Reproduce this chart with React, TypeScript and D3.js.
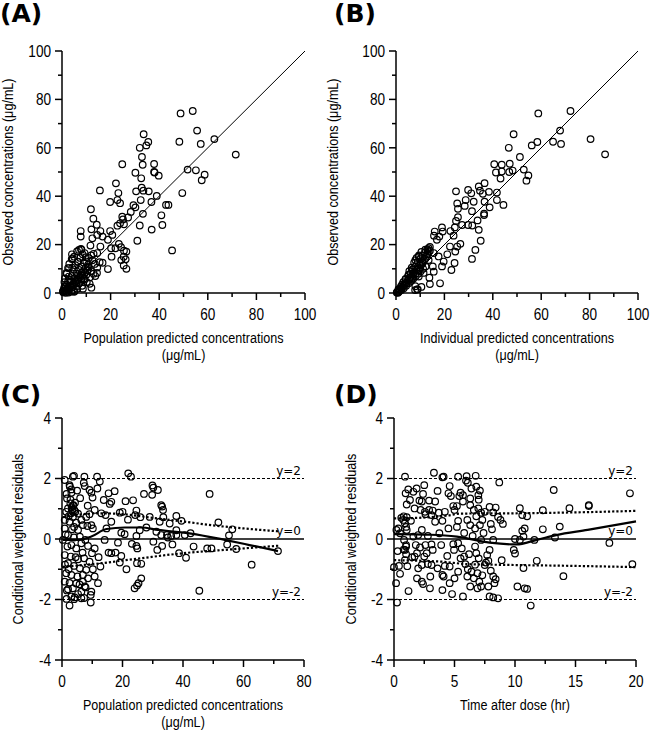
import React from 'react';
import * as d3 from 'd3';

// ---------- tick labels ----------
const concTicks = [0, 20, 40, 60, 80, 100];
const concMinor = [10, 30, 50, 70, 90];
const predTicksC = [0, 20, 40, 60, 80];
const predMinorC = [10, 30, 50, 70];
const timeTicks = [0, 5, 10, 15, 20];
const timeMinor = [2.5, 7.5, 12.5, 17.5];
const resTicks = [-4, -2, 0, 2, 4];
const resMinor = [-3, -1, 1, 3];

// ---------- (A) PRED vs DV ----------
const panelAPoints: [number, number][] = [
  [48.8, 74.2], [53.8, 75.2], [55.6, 67.1], [57.1, 61.6], [48.3, 62.5], [62.7, 63.6], [71.5, 57.2],
  [33.6, 65.6], [35.5, 62.4], [34.7, 61.0], [32.0, 60.0], [32.9, 56.2], [24.8, 53.2], [33.2, 53.0],
  [37.9, 53.3], [30.2, 49.7], [37.9, 50.0], [38.1, 49.8], [39.8, 48.5], [32.6, 47.4], [51.7, 51.0],
  [55.1, 50.7], [58.7, 48.9], [57.5, 46.6], [22.2, 45.3], [15.6, 42.4], [30.5, 42.0], [32.8, 43.5],
  [33.5, 42.3], [35.7, 42.0], [23.2, 41.3], [39.0, 40.1], [49.5, 41.3], [22.8, 38.4], [19.8, 37.6],
  [23.9, 37.1], [32.4, 38.4], [36.8, 37.6], [30.2, 35.4], [29.4, 36.3], [28.3, 33.5], [42.8, 36.4],
  [43.8, 36.4], [11.9, 34.6], [12.9, 30.7], [24.8, 31.5], [25.1, 30.4], [33.3, 32.7], [40.9, 32.1],
  [23.9, 28.8], [22.8, 27.8], [25.5, 28.4], [27.2, 31.2], [14.3, 28.2], [12.1, 26.3], [32.0, 27.9],
  [36.9, 26.2], [41.3, 28.1], [7.7, 25.6], [7.7, 23.3], [12.5, 22.6], [15.8, 25.6], [14.5, 24.0],
  [19.8, 25.6], [20.7, 24.0], [16.7, 23.3], [11.7, 19.6], [15.8, 19.2], [18.9, 22.0], [23.4, 20.3],
  [20.2, 18.5], [24.3, 18.9], [25.5, 17.5], [26.5, 17.1], [25.4, 15.0], [26.2, 13.9], [24.4, 13.6],
  [25.4, 11.4], [26.5, 10.0], [31.0, 21.6], [45.3, 17.6], [20.4, 15.0], [22.0, 18.5], [18.9, 9.9],
  [4.1, 16.0], [4.4, 14.3], [8.0, 17.9], [9.3, 16.5], [13.0, 16.2], [14.5, 16.5], [15.5, 12.7],
  [16.7, 12.5], [13.7, 7.0], [14.4, 8.3], [10.7, 11.0], [6.6, 12.8], [2.9, 10.3], [1.8, 8.3],
  [4.9, 9.7], [8.0, 8.3], [5.9, 6.6], [9.3, 5.6], [11.4, 3.8], [2.5, 4.8], [1.1, 2.8], [4.1, 3.2],
  [6.9, 3.9], [0.4, 0.8], [2.5, 1.5], [5.2, 0.8], [8.6, 1.8], [12.1, 2.2],
  [0.5, 0.3], [1.0, 0.8], [1.5, 1.2], [2.0, 0.5], [2.5, 2.0], [3.0, 1.5], [3.5, 3.0], [4.0, 2.2],
  [4.5, 1.0], [5.0, 3.5], [5.5, 4.5], [6.0, 2.8], [6.5, 5.5], [7.0, 4.0], [7.5, 6.5], [8.0, 5.0],
  [8.5, 7.2], [9.0, 6.0], [9.5, 8.5], [10.0, 7.5], [10.5, 9.5], [11.0, 10.5], [3.0, 5.5], [4.0, 7.0],
  [5.0, 6.0], [6.0, 8.0], [7.0, 9.5], [8.0, 11.0], [9.0, 12.5], [10.0, 13.0], [11.0, 14.5],
  [12.0, 15.5], [2.0, 3.5], [3.5, 4.8], [1.5, 2.5], [2.8, 6.8], [4.2, 10.5], [5.5, 11.5], [6.5, 13.0],
  [7.5, 14.5], [3.0, 12.0], [4.0, 14.0], [5.0, 15.0], [6.2, 17.2], [7.0, 17.8], [7.8, 18.2],
  [8.5, 16.0], [9.8, 14.8], [10.8, 11.8], [12.5, 13.5], [13.5, 12.0], [14.5, 10.5], [1.0, 4.5],
  [2.0, 8.0], [1.2, 6.0], [2.5, 10.3], [0.8, 1.8], [1.8, 0.8], [2.2, 1.6], [3.2, 2.5], [4.8, 4.0],
  [5.8, 5.0], [6.8, 6.2], [7.8, 7.5], [8.8, 9.0], [9.8, 10.5], [12.0, 9.0], [13.0, 8.0], [11.5, 6.5],
  [10.2, 4.5], [8.3, 3.0], [6.3, 1.8], [5.0, 0.5], [3.8, 0.6], [2.7, 0.2], [1.5, 0.1], [0.6, 0.9],
];

// ---------- (B) IPRED vs DV ----------
const panelBPoints: [number, number][] = [
  [58.8, 74.2], [72.1, 75.2], [67.8, 67.1], [68.2, 61.6], [64.9, 62.5], [80.4, 63.6], [86.4, 57.3],
  [48.6, 65.6],
  [56.1, 61.0], [58.4, 62.4], [46.6, 60.0], [51.2, 56.2], [40.6, 53.2], [43.7, 53.0], [47.0, 53.4],
  [41.3, 49.8], [43.7, 50.2], [46.8, 50.0], [48.2, 50.6], [43.2, 47.3], [52.8, 51.0], [54.7, 48.6],
  [53.9, 46.4], [36.6, 45.4], [24.8, 42.0], [29.8, 42.6], [31.1, 41.2], [34.2, 44.0], [34.7, 42.3],
  [35.9, 41.0], [38.4, 41.8], [41.7, 41.5], [28.8, 38.4], [32.1, 37.7], [36.6, 37.7], [41.7, 38.4],
  [44.4, 36.4], [25.3, 37.0], [25.6, 34.8], [28.4, 36.0], [31.4, 33.8], [36.4, 32.2], [36.4, 32.8],
  [38.7, 35.4], [25.6, 31.3], [24.8, 29.8], [27.3, 28.1], [29.8, 28.1], [31.5, 27.9], [33.7, 30.0],
  [34.2, 26.1], [24.3, 27.1], [16.0, 25.4], [15.7, 23.7], [19.0, 27.1], [19.3, 25.4], [17.9, 23.3],
  [16.9, 22.0], [22.5, 25.6], [23.8, 23.7], [26.6, 20.3], [25.3, 19.2], [24.5, 17.1], [22.3, 19.2],
  [21.2, 16.0], [24.2, 12.4], [22.9, 9.5], [31.4, 14.1], [32.8, 17.8], [35.0, 21.6], [18.2, 4.0],
  [19.7, 13.0], [19.0, 11.0], [17.6, 15.1], [15.6, 16.5], [13.5, 18.5], [12.1, 17.9], [9.4, 15.1],
  [8.0, 13.6], [11.0, 12.4], [13.5, 13.6], [15.2, 11.0], [15.6, 8.8], [11.4, 8.3], [13.8, 6.3],
  [14.0, 3.7], [8.7, 1.5], [6.6, 9.7], [5.2, 7.6], [3.9, 5.6], [2.5, 3.4], [1.1, 1.4], [6.6, 5.6],
  [9.4, 6.8], [10.1, 10.4], [7.9, 1.2], [8.0, 2.8],
  [0.5, 0.4], [1.0, 0.9], [1.5, 1.3], [2.0, 1.8], [2.5, 2.2], [3.0, 3.0], [3.5, 3.2], [4.0, 4.2],
  [4.5, 4.0], [5.0, 5.3], [5.5, 5.8], [6.0, 6.5], [6.5, 6.2], [7.0, 7.8], [7.5, 8.5], [8.0, 8.0],
  [8.5, 9.5], [9.0, 10.0], [9.5, 9.2], [10.0, 11.5], [10.5, 12.0], [11.0, 12.5], [11.5, 13.5],
  [12.0, 14.0], [12.5, 15.0], [13.0, 16.0], [13.5, 17.0], [14.0, 17.5], [1.2, 0.5], [2.2, 1.2],
  [3.2, 2.0], [4.2, 3.0], [5.2, 4.0], [6.2, 5.0], [7.2, 6.0], [8.2, 7.0], [9.2, 8.0], [10.2, 9.0],
  [11.2, 10.0], [12.2, 11.0], [3.0, 4.5], [4.0, 5.8], [5.0, 7.0], [6.0, 8.0], [7.0, 9.5], [8.0, 11.0],
  [9.0, 12.8], [10.0, 14.0], [11.0, 15.5], [12.0, 16.8], [13.0, 18.0], [14.0, 19.0], [7.5, 12.5],
  [8.5, 14.5], [9.5, 15.5], [10.5, 17.0], [6.5, 10.5], [5.5, 9.0], [1.0, 1.5], [0.3, 0.2], [0.8, 0.1],
  [2.0, 2.6], [9.0, 1.5], [10.5, 2.5],
];

// ---------- (C) PRED vs CWRES ----------
const panelCPoints: [number, number][] = [
  [3.6, 2.06], [3.97, 2.09], [7.4, 2.06], [11.6, 2.06], [12.5, 1.9], [21.9, 2.17], [22.8, 2.06],
  [7.2, 1.86], [7.5, 1.75], [9.1, 1.62], [9.7, 1.53], [11.7, 1.67], [10.1, 1.37], [2.6, 1.73],
  [3.1, 1.53], [1.5, 1.49], [15.4, 1.51], [17.4, 1.58], [13.8, 1.29], [16.3, 1.23], [15.8, 1.16],
  [21.0, 1.25], [23.5, 1.28], [27.1, 1.49], [29.9, 1.77], [30.2, 1.70], [31.7, 1.62], [29.8, 1.46],
  [32.8, 1.12], [33.1, 1.07], [33.4, 0.96], [48.8, 1.49], [10.8, 0.96], [13.0, 0.85], [14.4, 0.79],
  [19.1, 0.87], [20.0, 0.90], [24.6, 0.94], [24.2, 0.79], [25.9, 0.72], [21.8, 0.64], [29.0, 0.73],
  [32.3, 0.57], [33.5, 0.72], [35.6, 0.51], [37.8, 0.76], [39.5, 0.60], [51.7, 0.55], [56.3, 0.32],
  [55.2, 0.12], [16.3, 0.57], [14.7, 0.35], [19.6, 0.21], [20.7, 0.16], [24.6, 0.10], [25.7, 0.29],
  [27.9, 0.38], [31.2, 0.24], [32.8, 0.13], [35.0, 0.05], [34.7, 0.13], [36.1, 0.10], [37.8, 0.13],
  [37.8, 0.29], [40.6, 0.13], [42.5, 0.19], [14.1, -0.03], [18.5, -0.12], [23.1, -0.16],
  [24.6, -0.23], [24.9, -0.31], [30.2, -0.09], [31.5, -0.36], [33.1, -0.23], [36.5, -0.18],
  [38.7, -0.47], [41.0, -0.62], [43.5, -0.25], [48.0, -0.31], [49.4, -0.31], [54.6, -0.18],
  [57.6, -0.33], [62.7, -0.85], [71.4, -0.40], [15.4, -0.45], [16.3, -0.47], [17.7, -0.45],
  [19.6, -0.56], [19.1, -0.78], [24.8, -0.80], [26.2, -0.82], [21.3, -1.0], [26.2, -1.30],
  [25.3, -1.46], [24.8, -1.54], [24.0, -1.63], [45.4, -1.71], [12.1, -0.60], [12.7, -0.91],
  [10.2, -1.0], [10.8, -1.24], [11.9, -1.46], [9.7, -1.74], [9.5, -1.85], [7.5, -1.57], [6.4, -1.74],
  [5.3, -1.82], [3.6, -1.63], [2.0, -1.66], [3.1, -1.90], [4.2, -1.93], [6.4, -1.96], [7.3, -1.95],
  [9.5, -2.1], [2.5, -2.2], [1.5, -1.98], [4.0, -1.99],
  [0.9, 1.95], [2.5, 1.78], [3.1, 1.64], [1.65, 1.34], [2.75, 1.18], [3.6, 1.10], [1.98, 1.01],
  [3.3, 0.96], [1.4, 0.90], [4.4, 0.90], [2.2, 0.75], [3.6, 0.73], [5.3, 0.84], [0.9, 0.63],
  [2.5, 0.57], [4.7, 0.54], [6.4, 0.63], [8.0, 0.73], [9.1, 0.82], [6.9, 0.46], [8.4, 0.43],
  [9.7, 0.46], [10.2, 0.35], [0.9, 0.35], [3.3, 0.32], [5.3, 0.30], [2.0, 0.13], [3.96, 0.05],
  [5.9, 0.08], [7.7, -0.03], [0.3, -0.03], [1.8, -0.25], [3.1, -0.20], [4.7, -0.31], [6.4, -0.14],
  [8.6, -0.23], [10.8, -0.31], [9.9, -0.47], [0.9, -0.53], [2.9, -0.58], [5.3, -0.67], [7.3, -0.64],
  [9.1, -0.75], [2.0, -0.80], [3.96, -0.89], [5.9, -0.97], [8.0, -1.02], [1.4, -1.13], [3.1, -1.19],
  [5.1, -1.24], [6.9, -1.19], [8.6, -1.30], [0.9, -1.41], [2.5, -1.45], [4.7, -1.47], [6.9, -1.41],
  [3.2, 1.05], [3.5, 0.98], [3.8, 1.12], [4.1, 0.95], [3.0, 0.85], [4.3, 1.2], [2.8, 1.3],
  [4.0, 0.4], [1.2, 0.15], [6.0, 1.35], [5.0, 1.6], [8.5, 1.1], [1.0, -0.85], [2.2, -1.0],
  [6.8, -0.45], [4.5, -0.6], [7.8, -1.6], [1.6, -1.7], [5.8, -1.5],
];

// ---------- (D) TIME vs CWRES ----------
const panelDPoints: [number, number][] = [
  [0.91, 2.06], [3.3, 2.19], [4.0, 2.04], [4.1, 2.06], [5.3, 2.06], [6.0, 2.08], [6.75, 2.09],
  [5.95, 1.93], [6.1, 1.86], [8.7, 1.87], [13.2, 1.62], [19.5, 1.51], [16.1, 1.12], [16.1, 1.09],
  [14.5, 1.02], [12.3, 0.95], [10.4, 1.02], [10.6, 0.79], [11.0, 0.75], [13.7, 0.41], [12.3, 0.32],
  [13.3, 0.05], [17.8, -0.13], [19.7, -0.83], [14.0, -1.23], [11.8, -0.72], [10.7, -0.96],
  [10.8, -1.63], [11.0, -1.65], [10.2, -1.57], [10.0, -0.48], [9.9, -0.36], [10.0, 0.0],
  [10.4, -0.03], [10.7, 0.08], [10.6, 0.27], [10.8, 0.35], [11.6, -0.03], [0.17, -1.46],
  [0.0, -0.93], [0.41, -0.89], [1.2, -1.72], [0.25, -2.1], [11.3, -2.2],
  [0.96, 1.51], [1.18, 1.64], [1.87, 1.67], [2.5, 1.78], [1.6, 1.56], [2.4, 1.49], [1.32, 1.29],
  [2.1, 1.27], [2.3, 1.24], [1.05, 1.14], [1.7, 1.01], [2.2, 0.96], [2.56, 0.90], [2.9, 0.96],
  [3.2, 0.94], [3.4, 1.24], [3.6, 1.59], [3.7, 0.87], [4.5, 1.51], [4.6, 1.75], [4.7, 1.42],
  [4.9, 1.09], [5.2, 1.09], [5.0, 0.96], [4.2, 0.90], [4.0, 0.60], [5.3, 0.60], [5.5, 1.53],
  [5.4, 1.42], [5.7, 1.45], [5.7, 1.24], [6.3, 1.34], [6.4, 1.67], [6.8, 1.73], [7.1, 1.60],
  [6.97, 1.45], [6.3, 1.12], [6.6, 0.96], [6.97, 1.01], [7.2, 0.87], [7.5, 0.90], [7.9, 1.06],
  [8.4, 1.04], [8.2, 0.88], [8.8, 0.63], [8.6, 0.73], [8.1, 0.32], [7.3, 0.63], [7.1, 0.46],
  [6.7, 0.35], [6.06, 0.63], [6.3, 0.46], [2.9, 1.27], [2.6, 0.82], [3.1, 0.79], [3.4, 0.57],
  [3.75, 0.19], [2.8, 0.10], [2.3, 0.30], [2.0, 0.13], [1.6, 0.08], [1.05, 0.30], [0.9, 0.52],
  [1.05, 0.72], [0.77, 0.63], [0.36, 0.35], [0.5, 0.19], [0.83, -0.03], [1.0, -0.25], [0.9, -0.36],
  [1.8, -0.20], [2.15, -0.28], [2.6, -0.20], [3.1, -0.18], [3.2, -0.36], [2.7, -0.47], [1.9, -0.47],
  [1.7, -0.58], [2.5, -0.58], [2.3, -0.86], [2.8, -0.83], [3.1, -0.86], [3.6, -0.97], [4.2, -0.89],
  [4.4, -0.56], [4.96, -0.36], [4.9, -0.17], [5.3, -0.14], [5.6, -0.31], [5.5, -0.64], [5.8, -0.58],
  [5.9, -0.83], [6.1, -1.0], [6.4, -1.08], [6.06, -1.24], [6.6, -1.30], [6.9, -1.13], [7.05, -1.41],
  [7.2, -1.57], [6.9, -1.63], [6.3, -1.57], [5.3, -1.08], [5.0, -1.30], [4.6, -1.46], [4.0, -1.19],
  [4.1, -1.24], [4.6, -0.91], [6.7, -0.25], [6.8, -0.47], [7.0, -0.64], [7.2, -0.03], [7.5, -0.86],
  [7.6, -0.78], [7.8, -0.72], [7.7, -0.53], [7.9, -0.36], [8.2, -0.03], [8.0, -1.05], [8.2, -1.24],
  [8.4, -1.33], [8.3, -1.46], [7.8, -1.57], [7.9, -1.9], [8.2, -1.93], [8.6, -1.96], [5.7, -1.9],
  [4.8, -1.82], [4.0, -1.69], [2.97, -1.63], [2.4, -1.49], [1.9, -1.30], [3.0, -1.24], [2.0, -0.97],
  [2.3, -1.41], [0.2, 0.3], [0.3, -0.4], [0.6, 0.7], [0.8, 0.75], [1.0, 0.4], [1.0, -0.2],
  [0.8, -0.35], [1.0, -0.5], [0.9, -0.7], [1.1, -0.9], [0.5, -1.15], [6.5, 0.1], [7.4, 0.2],
  [6.8, 0.75], [5.8, 0.2], [4.5, 0.35], [3.9, -0.2], [6.2, -0.5], [7.3, -1.2], [6.7, -0.85],
  [5.2, 0.4], [1.4, 0.6], [1.5, -0.6], [9.0, 0.5], [8.9, -0.7], [7.0, 1.3], [8.0, 0.5],
];

// ---------- smooth / percentile lines ----------
const cSolid: [number, number][] = [
  [0.3, -0.03], [5.3, -0.03], [9.7, 0.08], [14.7, 0.33], [20.7, 0.38], [26.2, 0.38], [31.7, 0.3],
  [42.7, 0.18], [53.8, -0.03], [62, -0.2], [71.4, -0.4],
];
const cUpper: [number, number][] = [
  [0.3, 0.72], [5, 0.8], [13, 0.85], [20, 0.82], [30, 0.7], [40, 0.58], [50, 0.45], [60, 0.35], [72, 0.25],
];
const cLower: [number, number][] = [
  [0.3, -0.92], [13, -0.8], [25, -0.65], [40, -0.47], [55, -0.35], [72, -0.22],
];
const dSolid: [number, number][] = [
  [0, 0.16], [3, 0.14], [5.2, 0.08], [7.9, -0.12], [10.1, -0.18], [11.8, -0.03], [13.4, 0.13],
  [16, 0.3], [20, 0.58],
];
const dUpper: [number, number][] = [
  [0, 0.68], [3, 0.72], [4.5, 0.78], [5.5, 0.84], [10, 0.85], [15, 0.88], [20, 0.93],
];
const dLower: [number, number][] = [
  [0, -0.7], [4, -0.75], [6, -0.83], [10, -0.86], [15, -0.89], [20, -0.93],
];

const refLevels = [2, 0, -2];

const SANS = "'Liberation Sans', Arial, sans-serif";
const BOLDF = "'DejaVu Sans', Verdana, sans-serif";

type NTextProps = { x: number; y: number; size: number; anchor?: string; rotate?: number; sx?: number; children: React.ReactNode };
function NText({ x, y, size, anchor = 'start', rotate = 0, sx = 0.86, children }: NTextProps) {
  return (
    <text transform={`translate(${x},${y}) rotate(${rotate}) scale(${sx},1)`} x={0} y={0}
      textAnchor={anchor} fontFamily={SANS} fontSize={size} fill="#000">{children}</text>
  );
}

type PanelProps = {
  x0: number; x1: number; yTop: number; yBot: number;
  xDomain: [number, number]; yDomain: [number, number];
  xTicks: number[]; xMinor: number[]; yTicks: number[]; yMinor: number[];
  points: [number, number][];
  label: string; labelX: number; labelY: number;
  xTitle: string[]; yTitle: string; yTitleX: number;
  identity?: boolean;
  residual?: boolean;
  solid?: [number, number][]; upper?: [number, number][]; lower?: [number, number][];
};

function Panel(p: PanelProps) {
  const xs = d3.scaleLinear().domain(p.xDomain).range([p.x0, p.x1]);
  const ys = d3.scaleLinear().domain(p.yDomain).range([p.yBot, p.yTop]);
  const line = d3.line<[number, number]>().x(d => xs(d[0])).y(d => ys(d[1])).curve(d3.curveMonotoneX);
  const yc = (p.yTop + p.yBot) / 2;
  const xc = (p.x0 + p.x1) / 2;
  return (
    <g>
      <text x={p.labelX} y={p.labelY} fontFamily={BOLDF} fontWeight="bold" fontSize={25}>{p.label}</text>
      {p.identity && (
        <line x1={xs(0)} y1={ys(0)} x2={xs(100)} y2={ys(100)} stroke="#000" strokeWidth={1} />
      )}
      {p.residual && refLevels.map(v => (
        <line key={'r' + v} x1={p.x0} x2={p.x1} y1={ys(v)} y2={ys(v)} stroke="#000"
          strokeWidth={v === 0 ? 1.3 : 1} strokeDasharray={v === 0 ? undefined : '3,2'} />
      ))}
      {p.residual && refLevels.map(v => (
        <text key={'t' + v} x={p.x1 - 3} y={ys(v) - 4} textAnchor="end" fontFamily="'DejaVu Sans', sans-serif" fontSize={12}>{`y=${v}`}</text>
      ))}
      {p.points.map((d, i) => (
        <circle key={i} cx={xs(d[0])} cy={ys(d[1])} r={3.3} fill="none" stroke="#000" strokeWidth={1.2} />
      ))}
      {p.upper && <path d={line(p.upper) || ''} fill="none" stroke="#000" strokeWidth={2.2} strokeDasharray="2.2,2" />}
      {p.lower && <path d={line(p.lower) || ''} fill="none" stroke="#000" strokeWidth={2.2} strokeDasharray="2.2,2" />}
      {p.solid && <path d={line(p.solid) || ''} fill="none" stroke="#000" strokeWidth={2.2} />}
      <line x1={p.x0} x2={p.x0} y1={p.yTop} y2={p.yBot} stroke="#000" strokeWidth={1.5} />
      <line x1={p.x0} x2={p.x1} y1={p.yBot} y2={p.yBot} stroke="#000" strokeWidth={1.5} />
      {p.yTicks.map(v => (
        <g key={'yt' + v}>
          <line x1={p.x0 - 7} x2={p.x0} y1={ys(v)} y2={ys(v)} stroke="#000" strokeWidth={1.5} />
          <NText x={p.x0 - 11} y={ys(v) + 5.8} size={16} anchor="end" sx={0.85}>{String(v)}</NText>
        </g>
      ))}
      {p.yMinor.map(v => (
        <line key={'ym' + v} x1={p.x0 - 4} x2={p.x0} y1={ys(v)} y2={ys(v)} stroke="#000" strokeWidth={1.5} />
      ))}
      {p.xTicks.map(v => (
        <g key={'xt' + v}>
          <line x1={xs(v)} x2={xs(v)} y1={p.yBot} y2={p.yBot + 7} stroke="#000" strokeWidth={1.5} />
          <NText x={xs(v)} y={p.yBot + 27} size={16} anchor="middle" sx={0.85}>{String(v)}</NText>
        </g>
      ))}
      {p.xMinor.map(v => (
        <line key={'xm' + v} x1={xs(v)} x2={xs(v)} y1={p.yBot} y2={p.yBot + 4} stroke="#000" strokeWidth={1.5} />
      ))}
      {p.xTitle.map((t, i) => (
        <NText key={'xl' + i} x={xc} y={p.yBot + 50 + i * 17} size={15} anchor="middle" sx={0.84}>{t}</NText>
      ))}
      <NText x={p.yTitleX} y={yc} size={15} anchor="middle" rotate={-90} sx={0.84}>{p.yTitle}</NText>
    </g>
  );
}

export default function App() {
  return (
    <svg width={650} height={731} style={{ position: 'absolute', left: 0, top: 0, background: '#fff' }}>
      <rect width={650} height={731} fill="#fff" />
      <Panel x0={62} x1={305} yTop={51} yBot={293} xDomain={[0, 100]} yDomain={[0, 100]}
        xTicks={concTicks} xMinor={concMinor} yTicks={concTicks} yMinor={concMinor}
        points={panelAPoints} label="(A)" labelX={0} labelY={22}
        xTitle={['Population predicted concentrations', '(μg/mL)']}
        yTitle="Observed concentrations (μg/mL)" yTitleX={13} identity />
      <Panel x0={396} x1={638} yTop={51} yBot={293} xDomain={[0, 100]} yDomain={[0, 100]}
        xTicks={concTicks} xMinor={concMinor} yTicks={concTicks} yMinor={concMinor}
        points={panelBPoints} label="(B)" labelX={334} labelY={22}
        xTitle={['Individual predicted concentrations', '(μg/mL)']}
        yTitle="Observed concentrations (μg/mL)" yTitleX={338} identity />
      <Panel x0={62} x1={304} yTop={418} yBot={660} xDomain={[0, 80]} yDomain={[-4, 4]}
        xTicks={predTicksC} xMinor={predMinorC} yTicks={resTicks} yMinor={resMinor}
        points={panelCPoints} label="(C)" labelX={0} labelY={403}
        xTitle={['Population predicted concentrations', '(μg/mL)']}
        yTitle="Conditional weighted residuals" yTitleX={23} residual
        solid={cSolid} upper={cUpper} lower={cLower} />
      <Panel x0={394} x1={636} yTop={418} yBot={660} xDomain={[0, 20]} yDomain={[-4, 4]}
        xTicks={timeTicks} xMinor={timeMinor} yTicks={resTicks} yMinor={resMinor}
        points={panelDPoints} label="(D)" labelX={334} labelY={403}
        xTitle={['Time after dose (hr)']}
        yTitle="Conditional weighted residuals" yTitleX={356} residual
        solid={dSolid} upper={dUpper} lower={dLower} />
    </svg>
  );
}
